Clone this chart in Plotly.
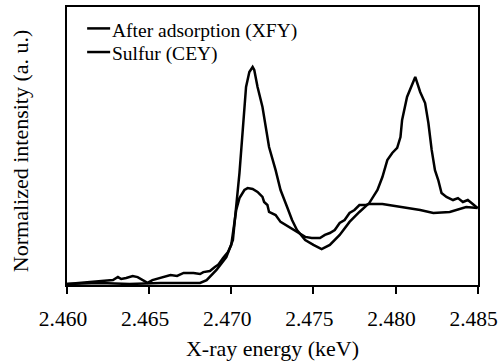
import plotly.graph_objects as go

# X-ray energy (keV) and normalized intensity for each spectrum
energy_xfy = [2.4600, 2.4620, 2.4638, 2.4657, 2.4681, 2.4685, 2.4691, 2.4695, 2.4697,
              2.4701, 2.4703, 2.4705, 2.4707, 2.4708, 2.4709, 2.4711, 2.4713, 2.4714,
              2.4716, 2.4719, 2.4721, 2.4723, 2.4727, 2.4730, 2.4734, 2.4737, 2.4740,
              2.4745, 2.4750, 2.4755, 2.4760, 2.4766, 2.4772, 2.4778, 2.4784, 2.4789,
              2.4792, 2.4795, 2.4798, 2.4801, 2.4803, 2.4804, 2.4807, 2.4810, 2.4812,
              2.4815, 2.4818, 2.4820, 2.4822, 2.4824, 2.4826, 2.4828, 2.4831, 2.4835,
              2.4838, 2.4841, 2.4844, 2.4847, 2.4850]
intensity_xfy = [0.000, 0.005, 0.000, 0.005, 0.005, 0.018, 0.065, 0.101, 0.124,
                 0.203, 0.364, 0.512, 0.710, 0.825, 0.908, 0.977, 1.000, 0.986,
                 0.908, 0.816, 0.724, 0.631, 0.525, 0.433, 0.355, 0.295, 0.249,
                 0.203, 0.180, 0.161, 0.180, 0.226, 0.286, 0.332, 0.373, 0.433,
                 0.493, 0.571, 0.604, 0.627, 0.677, 0.756, 0.862, 0.917, 0.954,
                 0.885, 0.834, 0.742, 0.618, 0.525, 0.479, 0.419, 0.401, 0.387,
                 0.396, 0.378, 0.387, 0.369, 0.350]

energy_cey = [2.4600, 2.4608, 2.4618, 2.4622, 2.4628, 2.4631, 2.4633, 2.4636, 2.4640,
              2.4643, 2.4646, 2.4649, 2.4652, 2.4657, 2.4663, 2.4667, 2.4671, 2.4677,
              2.4681, 2.4683, 2.4687, 2.4690, 2.4692, 2.4695, 2.4698, 2.4700, 2.4703,
              2.4705, 2.4708, 2.4710, 2.4713, 2.4716, 2.4719, 2.4720, 2.4722, 2.4723,
              2.4727, 2.4730, 2.4733, 2.4736, 2.4740, 2.4745, 2.4749, 2.4754, 2.4757,
              2.4760, 2.4763, 2.4766, 2.4769, 2.4772, 2.4775, 2.4778, 2.4782, 2.4784,
              2.4792, 2.4804, 2.4815, 2.4823, 2.4833, 2.4843, 2.4850]
intensity_cey = [0.000, 0.005, 0.009, 0.014, 0.018, 0.032, 0.023, 0.028, 0.037,
                 0.032, 0.018, 0.005, 0.018, 0.028, 0.041, 0.037, 0.051, 0.051,
                 0.046, 0.055, 0.060, 0.078, 0.088, 0.120, 0.147, 0.180, 0.341,
                 0.396, 0.433, 0.442, 0.438, 0.424, 0.401, 0.378, 0.364, 0.332,
                 0.318, 0.286, 0.272, 0.258, 0.240, 0.217, 0.212, 0.212, 0.226,
                 0.235, 0.249, 0.281, 0.295, 0.327, 0.341, 0.364, 0.364, 0.369,
                 0.369, 0.355, 0.341, 0.327, 0.332, 0.355, 0.350]

x_ticks = [2.460, 2.465, 2.470, 2.475, 2.480, 2.485]
x_tick_labels = ["2.460", "2.465", "2.470", "2.475", "2.480", "2.485"]
series_names = ["After adsorption (XFY)", "Sulfur (CEY)"]

FONT = "Liberation Serif"
LINE_W = 2.5

fig = go.Figure()
fig.add_trace(go.Scatter(x=energy_xfy, y=intensity_xfy, mode="lines",
                         name=series_names[0], showlegend=False,
                         line=dict(color="black", width=LINE_W)))
fig.add_trace(go.Scatter(x=energy_cey, y=intensity_cey, mode="lines",
                         name=series_names[1], showlegend=False,
                         line=dict(color="black", width=LINE_W)))

# Compact legend in the upper-left corner: short line sample + label
legend_rows = [0.923, 0.838]          # paper y of each row
for name, ly in zip(series_names, legend_rows):
    fig.add_shape(type="line", xref="paper", yref="paper",
                  x0=0.049, x1=0.105, y0=ly, y1=ly,
                  line=dict(color="black", width=LINE_W))
    fig.add_annotation(xref="paper", yref="paper", x=0.105, y=ly - 0.008,
                       xanchor="left", yanchor="middle", showarrow=False,
                       text=name, font=dict(family=FONT, size=19.5, color="black"))

# Vertical axis title, set slightly below the plot centre
fig.add_annotation(xref="paper", yref="paper", x=-0.114, y=0.482,
                   xanchor="center", yanchor="middle", textangle=-90,
                   showarrow=False, text="Normalized intensity (a. u.)",
                   font=dict(family=FONT, size=22, color="black"))

fig.update_layout(
    width=499, height=361,
    margin=dict(l=67, r=21, t=7, b=76),
    paper_bgcolor="white", plot_bgcolor="white",
    font=dict(family=FONT, color="black", size=22),
    showlegend=False,
    xaxis=dict(range=[2.460, 2.48502], tickvals=x_ticks, ticktext=x_tick_labels,
               automargin=False,
               ticks="outside", ticklen=7, tickwidth=1.5, tickcolor="black",
               ticklabelstandoff=6, ticklabelshift=-4, ticklabeloverflow="allow",
               showline=True, linecolor="black", linewidth=1.5, mirror=True,
               showgrid=False, zeroline=False,
               tickfont=dict(family=FONT, size=21.5),
               title=dict(text="X-ray energy (keV)", font=dict(family=FONT, size=22),
                          standoff=13)),
    yaxis=dict(range=[-0.0046, 1.2765], showticklabels=False, ticks="",
               automargin=False,
               showline=True, linecolor="black", linewidth=1.5, mirror=True,
               showgrid=False, zeroline=False),
)

fig.write_html("out.html")
